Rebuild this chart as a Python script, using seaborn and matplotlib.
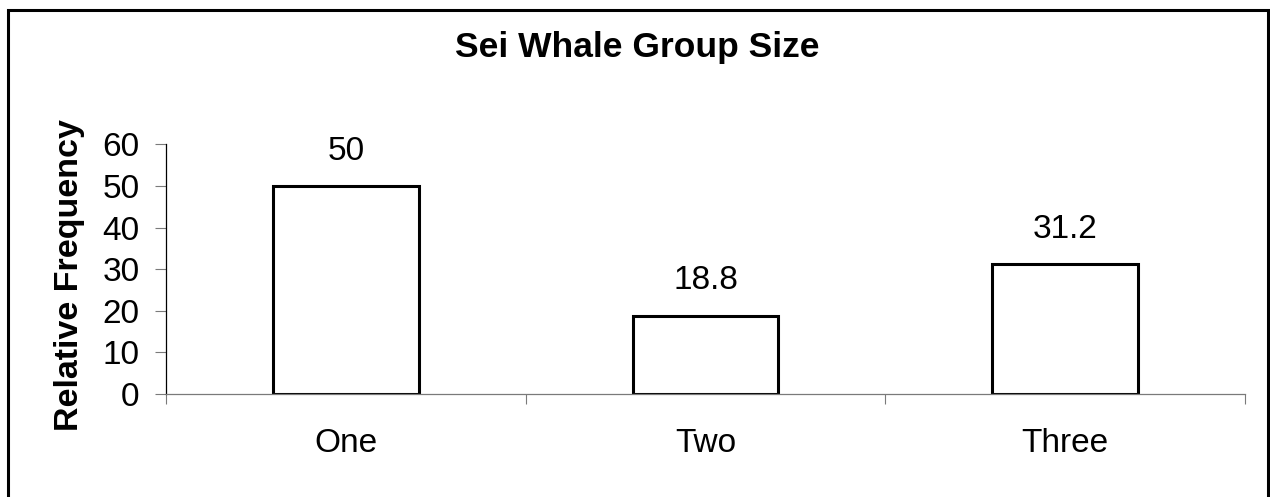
import matplotlib
matplotlib.use("Agg")
import matplotlib.pyplot as plt
import matplotlib.patches as mpatches
import seaborn as sns
import pandas as pd

# Group size categories and their relative frequency (%)
group_sizes = ["One", "Two", "Three"]
rel_freq = [50, 18.8, 31.2]
value_labels = ["50", "18.8", "31.2"]
y_ticks = [0, 10, 20, 30, 40, 50, 60]

title = "Sei Whale Group Size"
y_title = "Relative Frequency"

sns.set_theme(style="white")
plt.rcParams["font.family"] = ["Liberation Sans", "DejaVu Sans"]

W, H = 1270, 497
fig = plt.figure(figsize=(W / 100, H / 100), dpi=100)
fig.patch.set_facecolor("white")

# axes box in pixel terms: x 166..1245, y 144..394
ax = fig.add_axes([166 / W, 1 - 394 / H, (1245 - 166) / W, (394 - 144.3) / H])

df = pd.DataFrame({"size": group_sizes, "freq": rel_freq})
sns.barplot(data=df, x="size", y="freq", order=group_sizes, ax=ax,
            color="white", edgecolor="black", linewidth=2.2, width=0.405,
            saturation=1)

ax.set_xlim(-0.5, len(group_sizes) - 0.5)
ax.set_ylim(0, 60)
ax.set_yticks(y_ticks)
ax.set_yticklabels([str(t) for t in y_ticks])
ax.set_xlabel("")
ax.set_ylabel("")

for s in ["top", "right"]:
    ax.spines[s].set_visible(False)
ax.spines["left"].set_color("black")
ax.spines["left"].set_linewidth(0.9)
ax.spines["bottom"].set_color("#7a7a7a")
ax.spines["bottom"].set_linewidth(0.9)

ax.tick_params(axis="y", direction="out", length=8, width=0.8, color="#7a7a7a",
               labelsize=24, pad=11, labelcolor="black", left=True)
ax.tick_params(axis="x", which="major", length=0, labelsize=24, pad=24.5,
               labelcolor="black")
# category boundary ticks on the x-axis
ax.set_xticks([i - 0.5 for i in range(len(group_sizes) + 1)], minor=True)
ax.tick_params(axis="x", which="minor", direction="out", length=7.5, width=0.8,
               color="#7a7a7a", bottom=True)

for i, (v, lab) in enumerate(zip(rel_freq, value_labels)):
    ax.annotate(lab, xy=(i, v), xytext=(0, 19), textcoords="offset points",
                ha="center", va="baseline", fontsize=24, color="black")

fig.text(637 / W, 1 - 57 / H, title, ha="center", va="baseline",
         fontsize=25.5, fontweight="bold", color="black")
fig.text(70 / W, 1 - 275 / H, y_title, ha="center", va="center", rotation=90,
         fontsize=24.5, fontweight="bold", color="black")

# outer frame around the chart area
frame = mpatches.Rectangle((7.5 / W, -0.05), (1267.5 - 7.5) / W, 1.05 - 9.5 / H,
                           transform=fig.transFigure, fill=False,
                           edgecolor="black", linewidth=2.2, clip_on=False)
fig.patches.append(frame)

fig.savefig("out.png", dpi=100, facecolor="white")
